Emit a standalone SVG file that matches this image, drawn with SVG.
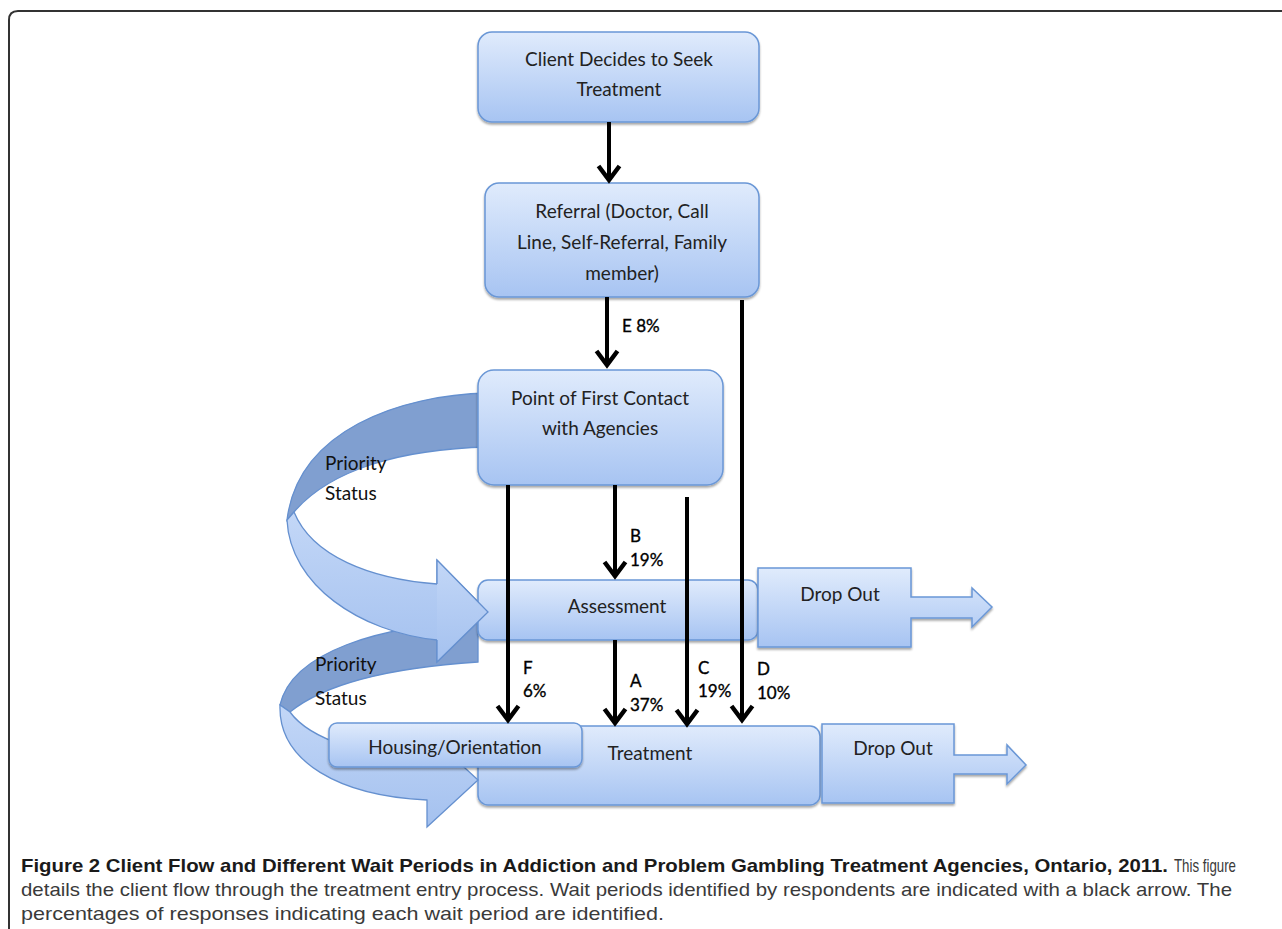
<svg xmlns="http://www.w3.org/2000/svg" width="1282" height="929" viewBox="0 0 1282 929">
<defs>
<linearGradient id="boxg" x1="0" y1="0" x2="0" y2="1">
<stop offset="0" stop-color="#e0ebfc"/>
<stop offset="1" stop-color="#a7c4f2"/>
</linearGradient>
<linearGradient id="ribg" x1="0" y1="0" x2="0" y2="1">
<stop offset="0" stop-color="#c3d7f7"/>
<stop offset="1" stop-color="#a4c1ef"/>
</linearGradient>
<filter id="sh" x="-5%" y="-5%" width="110%" height="120%">
<feDropShadow dx="0" dy="2" stdDeviation="1.2" flood-color="#000" flood-opacity="0.35"/>
</filter>
<marker id="ah" markerUnits="userSpaceOnUse" orient="auto" refX="0" refY="0" markerWidth="30" markerHeight="30" viewBox="-20 -15 25 30" overflow="visible">
<path d="M-14,-10.5 L0,0 L-14,10.5" fill="none" stroke="#000" stroke-width="4.5" stroke-linejoin="miter"/>
</marker>
<style>
.box{fill:url(#boxg);stroke:#6a97d6;stroke-width:1.5;filter:url(#sh)}
.rl{fill:url(#ribg);stroke:#6590cf;stroke-width:1.3}
.rd{fill:#809fd0;stroke:#6590cf;stroke-width:1.3}
.t{font-family:Lato,"Liberation Sans",sans-serif;font-size:19px;fill:#222;text-anchor:middle;dominant-baseline:central}
.lb{font-family:Lato,"Liberation Sans",sans-serif;font-size:17px;fill:#000;stroke:#000;stroke-width:0.35;dominant-baseline:central}
.pr{font-family:Lato,"Liberation Sans",sans-serif;font-size:19px;fill:#111;dominant-baseline:central}
.ar{fill:none;stroke:#000;stroke-width:4;marker-end:url(#ah)}
.cap{font-family:"Liberation Sans",sans-serif;font-size:18.5px}
</style>
</defs>
<rect width="1282" height="929" fill="#fff"/>
<path d="M9,929 L9,20 Q9,11 18,11 L1282,11" fill="none" stroke="#333" stroke-width="2"/>

<g id="priority-status-lower">
<path class="rd" d="M478,622 C380,625 292,652 280,705 L290,712 C322,686 385,668 478,662 Z"/>
</g>
<g id="priority-status-upper">
<path class="rd" d="M488,393 C400,395 298,430 287,520 L294,512 C330,470 400,449 488,447 Z"/>
<path class="rl" d="M287,520 C290,585 360,632 437,640 L437,662 L488,612 L437,560 L437,584 C370,579 312,556 294,512 Z"/>
<text class="pr" x="325" y="462">Priority</text>
<text class="pr" x="325" y="492">Status</text>
</g>

<g id="client">
<rect class="box" x="478" y="32" width="281" height="90" rx="14"/>
<text class="t" x="619" y="58">Client Decides to Seek</text>
<text class="t" x="619" y="88">Treatment</text>
</g>
<g id="referral">
<rect class="box" x="485" y="183" width="274" height="114" rx="14"/>
<text class="t" x="622" y="210">Referral (Doctor, Call</text>
<text class="t" x="622" y="241">Line, Self-Referral, Family</text>
<text class="t" x="622" y="272">member)</text>
</g>
<g id="first-contact">
<rect class="box" x="478" y="370" width="245" height="115" rx="16"/>
<text class="t" x="600" y="397">Point of First Contact</text>
<text class="t" x="600" y="427">with Agencies</text>
</g>
<g id="assessment">
<rect class="box" x="478" y="580" width="280" height="60" rx="10"/>
<text class="t" x="617" y="605">Assessment</text>
</g>
<g id="dropout1">
<path class="box" d="M758,568 H911 V597 H972 V588 L992,607 L972,627 V618 H911 V647 H758 Z"/>
<text class="t" x="840" y="593">Drop Out</text>
</g>
<g id="priority-status-upper-head">
<path class="rl" d="M437,584 L437,560 L488,612 L437,662 L437,640" style="stroke-linejoin:miter"/>
</g>
<g id="treatment">
<rect class="box" x="478" y="726" width="342" height="79" rx="10"/>
<text class="t" x="650" y="752">Treatment</text>
</g>
<g id="dropout2">
<path class="box" d="M822,724 H954 V755 H1007 V745 L1026,765 L1007,784 V774 H954 V803 H822 Z"/>
<text class="t" x="893" y="747">Drop Out</text>
</g>
<g id="priority-status-lower-front">
<path class="rl" d="M280,705 C278,762 340,796 427,800 L427,827 L478,780 L427,733 L427,760 C370,758 310,740 290,712 Z"/>
<text class="pr" x="315" y="663">Priority</text>
<text class="pr" x="315" y="697">Status</text>
</g>
<g id="housing">
<rect class="box" x="329" y="723" width="253" height="44" rx="8"/>
<text class="t" x="455" y="746">Housing/Orientation</text>
</g>

<g id="connectors">
<line class="ar" x1="609" y1="122" x2="609" y2="180"/>
<line class="ar" x1="607" y1="297" x2="607" y2="365"/>
<line class="ar" x1="615" y1="485" x2="615" y2="576"/>
<line class="ar" x1="508" y1="485" x2="508" y2="720"/>
<line class="ar" x1="615" y1="640" x2="615" y2="723"/>
<line class="ar" x1="687" y1="497" x2="687" y2="724"/>
<line class="ar" x1="742" y1="300" x2="742" y2="720"/>
</g>

<g id="labels">
<text class="lb" x="622" y="325">E 8%</text>
<text class="lb" x="630" y="535">B</text>
<text class="lb" x="630" y="559">19%</text>
<text class="lb" x="523" y="667">F</text>
<text class="lb" x="523" y="690">6%</text>
<text class="lb" x="630" y="680">A</text>
<text class="lb" x="630" y="704">37%</text>
<text class="lb" x="698" y="667">C</text>
<text class="lb" x="698" y="690">19%</text>
<text class="lb" x="757" y="668">D</text>
<text class="lb" x="757" y="692">10%</text>
</g>

<g id="caption">
<text class="cap" x="21" y="872" font-weight="bold" fill="#1a1a1a" textLength="1147" lengthAdjust="spacingAndGlyphs">Figure 2 Client Flow and Different Wait Periods in Addiction and Problem Gambling Treatment Agencies, Ontario, 2011.</text>
<text class="cap" x="1174" y="872" fill="#3a3a3a" textLength="62" lengthAdjust="spacingAndGlyphs">This figure</text>
<text class="cap" x="21" y="896" fill="#3a3a3a" textLength="1211" lengthAdjust="spacingAndGlyphs">details the client flow through the treatment entry process. Wait periods identified by respondents are indicated with a black arrow. The</text>
<text class="cap" x="21" y="920" fill="#3a3a3a" textLength="643" lengthAdjust="spacingAndGlyphs">percentages of responses indicating each wait period are identified.</text>
</g>
</svg>
